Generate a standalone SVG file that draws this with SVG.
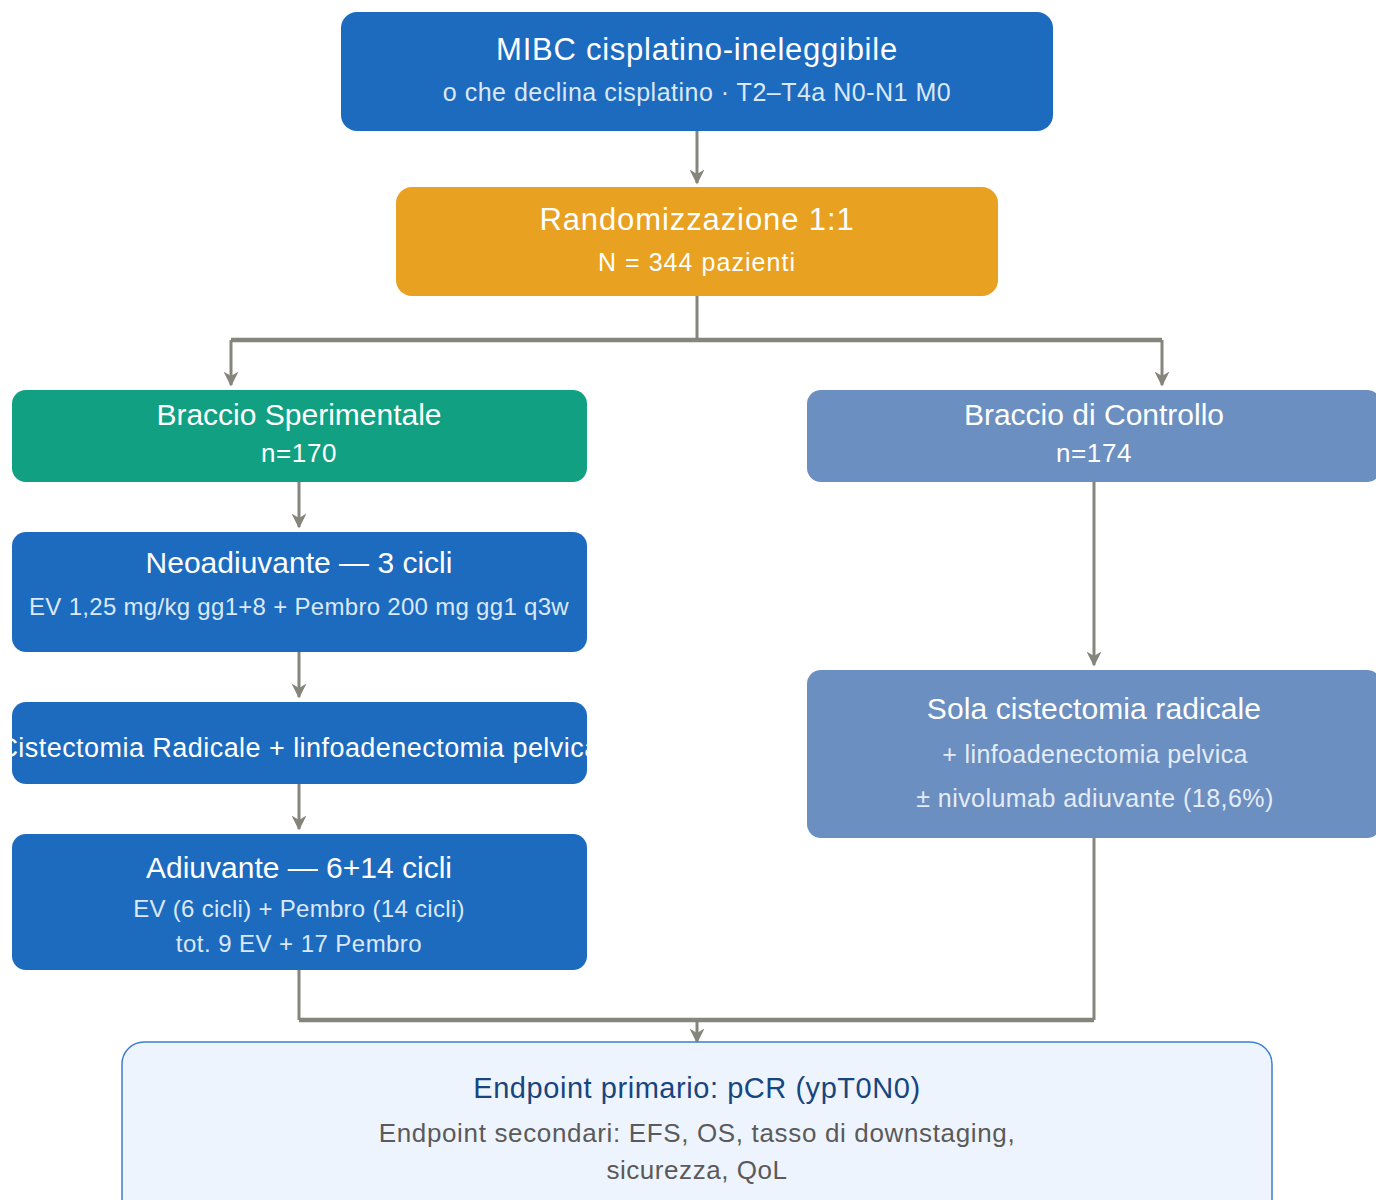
<svg xmlns="http://www.w3.org/2000/svg" width="1376" height="1200" viewBox="0 0 1376 1200">
<style>
text{font-family:"Liberation Sans",Arial,sans-serif;text-anchor:middle;dominant-baseline:central}
.t{font-size:30px;fill:#fff}
.s{font-size:24px;fill:#dbe8f8}
.sw{font-size:25px;fill:#fff}
.c{stroke:#85857c;stroke-width:3;fill:none}
.h{stroke:#85857c;stroke-width:4.5;fill:none}
</style>
<defs>
<marker id="ah" viewBox="0 0 10 10" refX="9" refY="5" markerWidth="5" markerHeight="5" orient="auto" markerUnits="strokeWidth">
<path d="M0,0 L10,5 L0,10 L3,5 z" fill="#85857c"/>
</marker>
<clipPath id="clipCR"><rect x="10" y="702" width="580" height="82"/></clipPath>
</defs>
<g id="connectors">
<line class="c" x1="697" y1="131" x2="697" y2="183" marker-end="url(#ah)"/>
<line class="c" x1="697" y1="296" x2="697" y2="340"/>
<polyline class="h" points="231,340 1162,340"/>
<line class="c" x1="231" y1="340" x2="231" y2="385" marker-end="url(#ah)"/>
<line class="c" x1="1162" y1="340" x2="1162" y2="385" marker-end="url(#ah)"/>
<line class="c" x1="299" y1="482" x2="299" y2="527" marker-end="url(#ah)"/>
<line class="c" x1="299" y1="652" x2="299" y2="697" marker-end="url(#ah)"/>
<line class="c" x1="299" y1="784" x2="299" y2="829" marker-end="url(#ah)"/>
<line class="c" x1="1094" y1="482" x2="1094" y2="665" marker-end="url(#ah)"/>
<line class="c" x1="299" y1="970" x2="299" y2="1020"/>
<line class="c" x1="1094" y1="838" x2="1094" y2="1020"/>
<polyline class="h" points="299,1020 1094,1020"/>
<line class="c" x1="697" y1="1020" x2="697" y2="1042" marker-end="url(#ah)"/>
</g>
<g id="mibc">
<rect x="341" y="12" width="712" height="119" rx="16" fill="#1d6bbf"/>
<text class="t" x="697" y="49" style="font-size:31px" letter-spacing="0.75">MIBC cisplatino-ineleggibile</text>
<text class="s" x="697" y="92" style="font-size:25px" letter-spacing="0.5">o che declina cisplatino · T2–T4a N0-N1 M0</text>
</g>
<g id="random">
<rect x="396" y="187" width="602" height="109" rx="16" fill="#e8a120"/>
<text class="t" x="697" y="219" style="font-size:31px" letter-spacing="0.9">Randomizzazione 1:1</text>
<text class="sw" x="697" y="262" letter-spacing="1.05">N = 344 pazienti</text>
</g>
<g id="sper">
<rect x="12" y="390" width="575" height="92" rx="14" fill="#11a082"/>
<text class="t" x="299" y="414">Braccio Sperimentale</text>
<text class="sw" x="299" y="453" style="font-size:26px" letter-spacing="0.6">n=170</text>
</g>
<g id="ctrl">
<rect x="807" y="390" width="574" height="92" rx="14" fill="#6b8fc0"/>
<text class="t" x="1094" y="414">Braccio di Controllo</text>
<text class="sw" x="1094" y="453" style="font-size:26px" letter-spacing="0.6">n=174</text>
</g>
<g id="neo">
<rect x="12" y="532" width="575" height="120" rx="14" fill="#1d6bbf"/>
<text class="t" x="299" y="562">Neoadiuvante — 3 cicli</text>
<text class="s" x="299" y="606" letter-spacing="0.3">EV 1,25 mg/kg gg1+8 + Pembro 200 mg gg1 q3w</text>
</g>
<g id="cist">
<rect x="12" y="702" width="575" height="82" rx="14" fill="#1d6bbf"/>
<text class="sw" x="299" y="748" clip-path="url(#clipCR)" style="font-size:27px" letter-spacing="0.45">Cistectomia Radicale + linfoadenectomia pelvica</text>
</g>
<g id="adiuv">
<rect x="12" y="834" width="575" height="136" rx="14" fill="#1d6bbf"/>
<text class="t" x="299" y="867">Adiuvante — 6+14 cicli</text>
<text class="s" x="299" y="908" letter-spacing="0.3">EV (6 cicli) + Pembro (14 cicli)</text>
<text class="s" x="299" y="943" letter-spacing="0.45">tot. 9 EV + 17 Pembro</text>
</g>
<g id="sola">
<rect x="807" y="670" width="574" height="168" rx="14" fill="#6b8fc0"/>
<text class="t" x="1094" y="708" letter-spacing="0.1">Sola cistectomia radicale</text>
<text class="s" x="1095" y="754" style="fill:#e4ecf7;font-size:25px" letter-spacing="0.4">+ linfoadenectomia pelvica</text>
<text class="s" x="1095" y="798" style="fill:#e4ecf7;font-size:25px" letter-spacing="0.45">± nivolumab adiuvante (18,6%)</text>
</g>
<g id="endpoint">
<rect x="122" y="1042" width="1150" height="180" rx="22" fill="#eef4fd" stroke="#3b7fd0" stroke-width="1.5"/>
<text x="697" y="1088" style="font-size:29px;fill:#17457e" letter-spacing="0.55">Endpoint primario: pCR (ypT0N0)</text>
<text x="697" y="1133" style="font-size:26px;fill:#5a5a5a" letter-spacing="0.65">Endpoint secondari: EFS, OS, tasso di downstaging,</text>
<text x="697" y="1170" style="font-size:26px;fill:#5a5a5a" letter-spacing="0.55">sicurezza, QoL</text>
</g>
</svg>
